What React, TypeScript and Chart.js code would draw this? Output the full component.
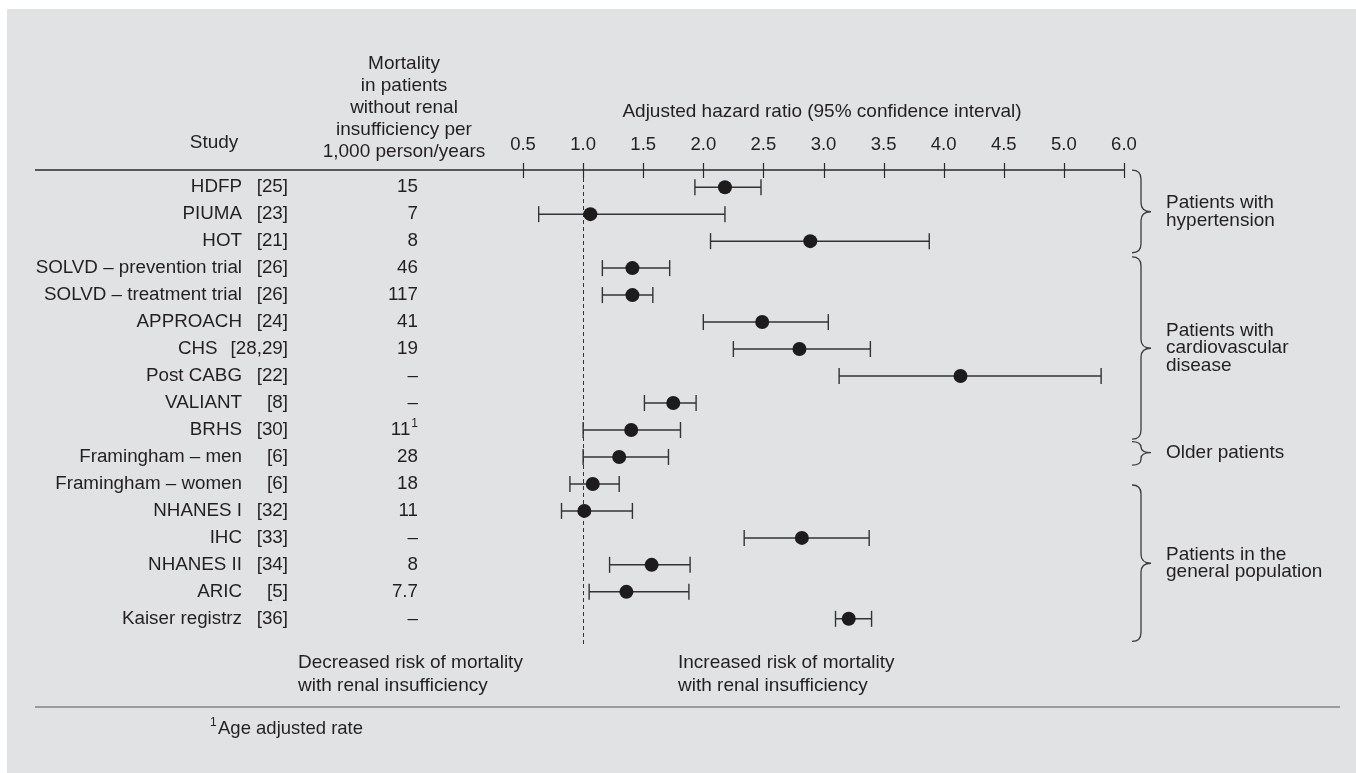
import React, { useEffect, useRef } from "react";
import { Chart, registerables } from "chart.js";

Chart.register(...registerables);

// ---------- data ----------
const studies = [
  "HDFP", "PIUMA", "HOT", "SOLVD – prevention trial", "SOLVD – treatment trial",
  "APPROACH", "CHS", "Post CABG", "VALIANT", "BRHS", "Framingham – men",
  "Framingham – women", "NHANES I", "IHC", "NHANES II", "ARIC", "Kaiser registrz",
];
const references = [
  "[25]", "[23]", "[21]", "[26]", "[26]", "[24]", "[28,29]", "[22]", "[8]", "[30]",
  "[6]", "[6]", "[32]", "[33]", "[34]", "[5]", "[36]",
];
const mortality = ["15", "7", "8", "46", "117", "41", "19", "–", "–", "11", "28", "18", "11", "–", "8", "7.7", "–"];
const mortalityNote = ["", "", "", "", "", "", "", "", "", "1", "", "", "", "", "", "", ""];
const hazardRatio = [2.18, 1.06, 2.89, 1.41, 1.41, 2.49, 2.8, 4.14, 1.75, 1.4, 1.3, 1.08, 1.01, 2.82, 1.57, 1.36, 3.21];
const ciLower = [1.93, 0.63, 2.06, 1.16, 1.16, 2.0, 2.25, 3.13, 1.51, 1.0, 1.0, 0.89, 0.82, 2.34, 1.22, 1.05, 3.1];
const ciUpper = [2.48, 2.18, 3.88, 1.72, 1.58, 3.04, 3.39, 5.62, 1.94, 1.81, 1.71, 1.3, 1.41, 3.38, 1.89, 1.88, 3.4];
const tickValues = [0.5, 1.0, 1.5, 2.0, 2.5, 3.0, 3.5, 4.0, 4.5, 5.0, 6.0];
const tickLabels = ["0.5", "1.0", "1.5", "2.0", "2.5", "3.0", "3.5", "4.0", "4.5", "5.0", "6.0"];
const groupLabels = [
  ["Patients with", "hypertension"],
  ["Patients with", "cardiovascular", "disease"],
  ["Older patients"],
  ["Patients in the", "general population"],
];
// brace extents in row units: [start, end, tip]
const groupSpans = [
  [-0.63, 2.43, 0.91],
  [2.58, 9.34, 5.97],
  [9.43, 10.3, 9.84],
  [11.04, 16.84, 13.94],
];
const mortalityHeader = ["Mortality", "in patients", "without renal", "insufficiency per", "1,000 person/years"];

// axis is evenly spaced up to 5.0, then 5.0 -> 6.0 occupies one half-step
const axisPos = (v: number) => (v <= 5 ? v : 5 + (v - 5) / 2);

const FONT = '"Liberation Sans", Arial, Helvetica, sans-serif';
const INK = "#231f20";
const BG = "#e1e2e4";

const overlayPlugin = {
  id: "forestOverlay",
  beforeDraw(chart: any) {
    const ctx = chart.ctx;
    ctx.save();
    ctx.fillStyle = "#ffffff";
    ctx.fillRect(0, 0, chart.width, chart.height);
    ctx.fillStyle = BG;
    ctx.fillRect(7, 9, chart.width - 7, chart.height - 9);
    ctx.restore();
  },
  beforeDatasetsDraw(chart: any) {
    const ctx = chart.ctx;
    const xs = chart.scales.x;
    const ys = chart.scales.y;
    const axisY = 170;
    ctx.save();
    ctx.strokeStyle = "#2a2a2a";
    ctx.lineWidth = 1.5;
    ctx.beginPath();
    ctx.moveTo(35, axisY);
    ctx.lineTo(xs.getPixelForValue(axisPos(6)), axisY);
    ctx.stroke();
    ctx.lineWidth = 1.2;
    tickValues.forEach((t) => {
      const px = Math.round(xs.getPixelForValue(axisPos(t))) + 0.5;
      ctx.beginPath();
      ctx.moveTo(px, axisY - 7);
      ctx.lineTo(px, axisY + 8);
      ctx.stroke();
    });
    const x1 = Math.round(xs.getPixelForValue(axisPos(1))) + 0.5;
    ctx.setLineDash([4, 3]);
    ctx.lineWidth = 1;
    ctx.strokeStyle = "#333";
    ctx.beginPath();
    ctx.moveTo(x1, axisY + 8);
    ctx.lineTo(x1, ys.getPixelForValue(17));
    ctx.stroke();
    ctx.setLineDash([]);
    ctx.restore();
  },
  afterDraw(chart: any) {
    const ctx = chart.ctx;
    const xs = chart.scales.x;
    const ys = chart.scales.y;
    ctx.save();
    ctx.fillStyle = INK;
    ctx.textBaseline = "middle";
    const f = (s: number) => `${s}px ${FONT}`;

    ctx.font = f(19);
    ctx.textAlign = "center";
    ctx.fillText("Study", 214, 143);
    mortalityHeader.forEach((line, i) => ctx.fillText(line, 404, 64 + i * 22));
    ctx.fillText("Adjusted hazard ratio (95% confidence interval)", 822, 112);
    ctx.font = f(18.5);
    tickValues.forEach((t, i) => ctx.fillText(tickLabels[i], xs.getPixelForValue(axisPos(t)), 145));

    ctx.font = f(18.8);
    studies.forEach((name, i) => {
      const y = ys.getPixelForValue(i);
      ctx.textAlign = "right";
      ctx.fillText(references[i], 288, y);
      const refLeft = 288 - ctx.measureText(references[i]).width;
      ctx.fillText(name, Math.min(242, refLeft - 13), y);
      const note = mortalityNote[i];
      let right = 418;
      if (note) {
        ctx.font = f(12);
        ctx.fillText(note, right, y - 6);
        right -= ctx.measureText(note).width + 1;
        ctx.font = f(18.8);
      }
      ctx.fillText(mortality[i], right, y);
    });

    ctx.strokeStyle = "#3c3c3c";
    ctx.lineWidth = 1.3;
    groupSpans.forEach((span, gi) => {
      const y1 = ys.getPixelForValue(span[0]);
      const y2 = ys.getPixelForValue(span[1]);
      const ym = ys.getPixelForValue(span[2]);
      const hx = 1132;
      const bx = 1141;
      const tx = 1151;
      const r = Math.min(9, (y2 - y1) / 4);
      ctx.beginPath();
      ctx.moveTo(hx, y1);
      ctx.quadraticCurveTo(bx, y1, bx, y1 + r);
      ctx.lineTo(bx, ym - r);
      ctx.quadraticCurveTo(bx, ym, tx, ym);
      ctx.moveTo(tx, ym);
      ctx.quadraticCurveTo(bx, ym, bx, ym + r);
      ctx.lineTo(bx, y2 - r);
      ctx.quadraticCurveTo(bx, y2, hx, y2);
      ctx.stroke();
      const lines = groupLabels[gi];
      ctx.font = f(19);
      ctx.textAlign = "left";
      const lh = 17.3;
      lines.forEach((ln, li) => {
        ctx.fillText(ln, 1166, ym + (li - (lines.length - 1) / 2) * lh);
      });
    });

    ctx.font = f(19);
    ctx.textAlign = "left";
    ctx.fillText("Decreased risk of mortality", 298, 663);
    ctx.fillText("with renal insufficiency", 298, 686);
    ctx.fillText("Increased risk of mortality", 678, 663);
    ctx.fillText("with renal insufficiency", 678, 686);

    ctx.strokeStyle = "#555";
    ctx.lineWidth = 1.2;
    ctx.beginPath();
    ctx.moveTo(35, 707);
    ctx.lineTo(1340, 707);
    ctx.stroke();

    ctx.font = f(12);
    ctx.fillText("1", 210, 723);
    ctx.font = f(18.5);
    ctx.fillText("Age adjusted rate", 218, 729);
    ctx.restore();
  },
};

export default function App() {
  const ref = useRef<HTMLCanvasElement | null>(null);
  useEffect(() => {
    document.body.style.margin = "0";
    document.body.style.overflow = "hidden";
    const rows = studies.map((_, i) => i);
    const whiskers = rows.map((i) => ({
      type: "scatter" as const,
      data: [
        { x: axisPos(ciLower[i]), y: i },
        { x: axisPos(ciUpper[i]), y: i },
      ],
      showLine: true,
      borderColor: "#333",
      borderWidth: 1.5,
      pointRadius: 0,
    }));
    const caps = {
      type: "scatter" as const,
      data: rows.flatMap((i) => [
        { x: axisPos(ciLower[i]), y: i },
        { x: axisPos(ciUpper[i]), y: i },
      ]),
      pointStyle: "line",
      rotation: 90,
      pointRadius: 8,
      pointBorderWidth: 1.4,
      pointBorderColor: "#333",
      showLine: false,
    };
    const points = {
      type: "scatter" as const,
      data: rows.map((i) => ({ x: axisPos(hazardRatio[i]), y: i })),
      pointStyle: "circle",
      pointRadius: 7,
      pointBackgroundColor: "#1d1b1c",
      pointBorderColor: "#1d1b1c",
      pointBorderWidth: 0,
      showLine: false,
    };
    const chart = new Chart(ref.current as HTMLCanvasElement, {
      type: "scatter",
      data: { datasets: [points, caps, ...whiskers] as any },
      options: {
        animation: false,
        responsive: false,
        devicePixelRatio: 1,
        layout: { padding: { left: 493, right: 202, top: 171, bottom: 138 } },
        plugins: { legend: { display: false }, tooltip: { enabled: false } },
        scales: {
          x: { type: "linear", display: false, min: 0.25, max: 5.75 },
          y: { type: "linear", display: false, min: -0.6, max: 16.6, reverse: true },
        },
      },
      plugins: [overlayPlugin],
    });
    return () => chart.destroy();
  }, []);
  return (
    <div style={{ width: 1356, height: 773, position: "relative" }}>
      <canvas ref={ref} width={1356} height={773} style={{ display: "block" }} />
    </div>
  );
}
